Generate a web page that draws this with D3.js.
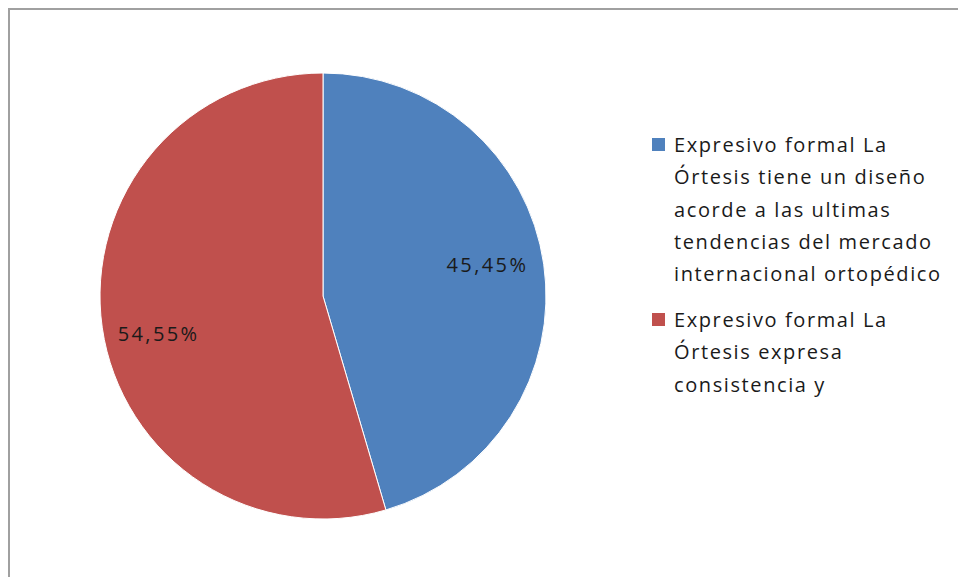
<!DOCTYPE html>
<html><head><meta charset="utf-8">
<script src="https://cdn.jsdelivr.net/npm/d3@7"></script>
<style>html,body{margin:0;padding:0;background:#fff;}</style>
</head><body>
<script>
const categories = [
  "Expresivo formal La Órtesis tiene un diseño acorde a las ultimas tendencias del mercado internacional ortopédico",
  "Expresivo formal La Órtesis expresa consistencia y"
];
const legendLines = [
  ["Expresivo formal La", "Órtesis tiene un diseño", "acorde a las ultimas", "tendencias del mercado", "internacional ortopédico"],
  ["Expresivo formal La", "Órtesis expresa", "consistencia y"]
];
const values = [45.45, 54.55];
const labels = ["45,45%", "54,55%"];
const colors = ["#4f81bd", "#c0504d"];

const W = 958, H = 577;
const FONT = "Open Sans, Liberation Sans, Arial, sans-serif";
const svg = d3.select("body").append("svg").attr("width", W).attr("height", H);
svg.append("rect").attr("x", 9).attr("y", 9).attr("width", W + 20).attr("height", H + 20)
  .attr("fill", "#fff").attr("stroke", "#a0a0a0").attr("stroke-width", 2);

const cx = 323, cy = 296, r = 223;
const pie = d3.pie().sort(null).value(d => d)(values);
const arc = d3.arc().innerRadius(0).outerRadius(r);
const labelArc = d3.arc().innerRadius(r * 0.745).outerRadius(r * 0.745);
const labelNudge = [-7, 14];
const g = svg.append("g").attr("transform", `translate(${cx},${cy})`);
g.selectAll("path").data(pie).join("path")
  .attr("d", arc).attr("fill", (d, i) => colors[i])
  .attr("stroke", "#fff").attr("stroke-width", 1);
g.selectAll("text").data(pie).join("text")
  .attr("transform", (d, i) => { const c = labelArc.centroid(d); return `translate(${c[0]},${c[1] + labelNudge[i]})`; })
  .attr("text-anchor", "middle").attr("dy", "0.35em")
  .attr("font-family", FONT).attr("font-size", 20).attr("letter-spacing", 2.4)
  .attr("fill", "#1a1a1a")
  .text((d, i) => labels[i]);

const baselines = [152, 327];
const lineH = 32.3;
const lg = svg.append("g");
categories.forEach((c, i) => {
  const gi = lg.append("g");
  gi.append("rect").attr("x", 652).attr("y", baselines[i] - 14).attr("width", 13).attr("height", 13).attr("fill", colors[i]);
  gi.append("text").attr("x", 674).attr("y", baselines[i])
    .attr("font-family", FONT).attr("font-size", 20).attr("letter-spacing", 1.6).attr("fill", "#1a1a1a")
    .selectAll("tspan").data(legendLines[i]).join("tspan")
    .attr("x", 674).attr("dy", (d, j) => j === 0 ? 0 : lineH).text(d => d);
});
</script>
</body></html>
